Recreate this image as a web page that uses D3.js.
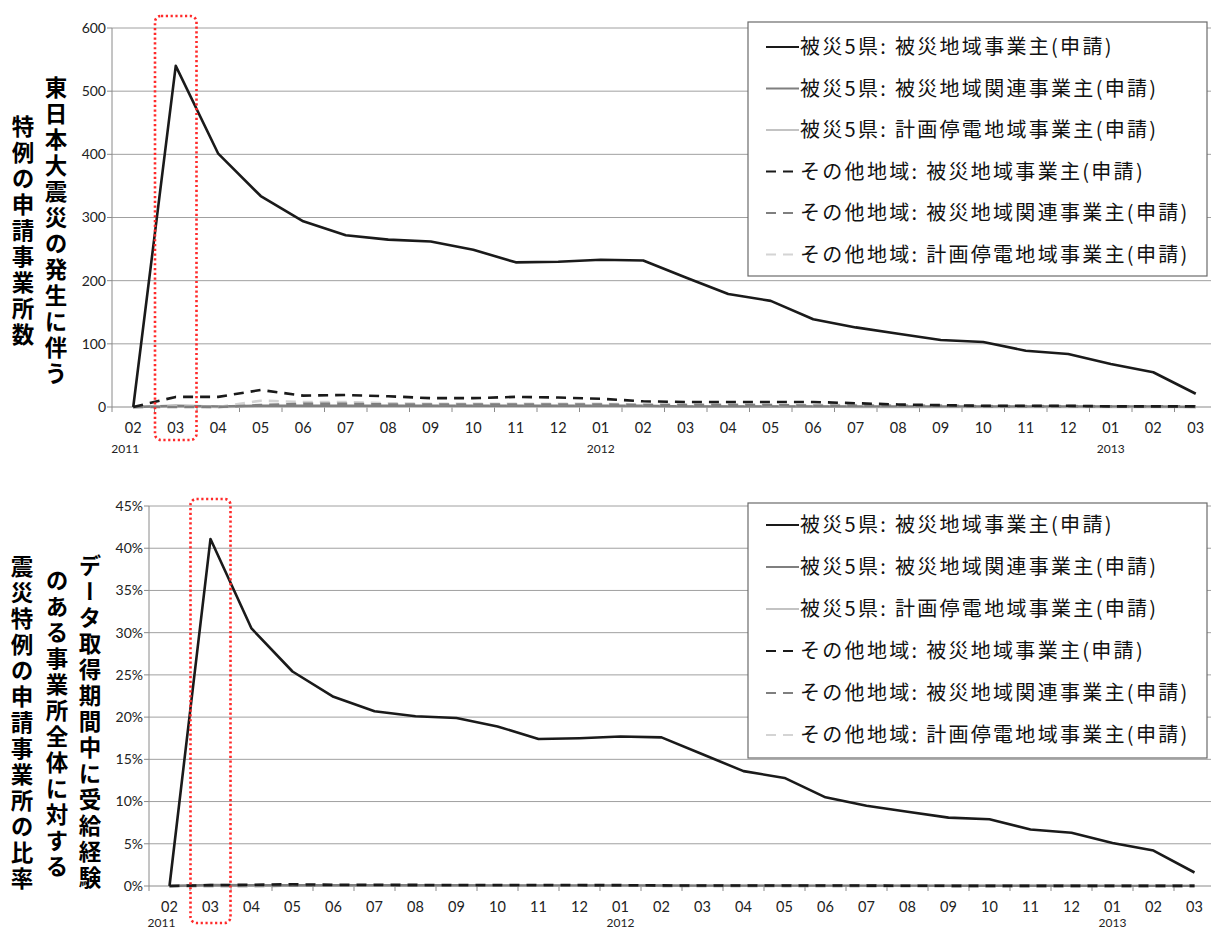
<!DOCTYPE html>
<html><head><meta charset="utf-8">
<script src="https://cdn.jsdelivr.net/npm/d3@7"></script>
<style>body{margin:0;background:#fff}svg{display:block}</style>
</head><body>
<svg id="c" width="1211" height="931"></svg>
<script>
// ---------- data ----------
const months = ["02","03","04","05","06","07","08","09","10","11","12","01","02","03","04","05","06","07","08","09","10","11","12","01","02","03"];
const yearLabels = ["2011","2012","2013"];
const yearIndex = [0, 11, 23];
const seriesNames = [
  "被災5県: 被災地域事業主(申請)",
  "被災5県: 被災地域関連事業主(申請)",
  "被災5県: 計画停電地域事業主(申請)",
  "その他地域: 被災地域事業主(申請)",
  "その他地域: 被災地域関連事業主(申請)",
  "その他地域: 計画停電地域事業主(申請)"
];
// top chart: counts
const countS1 = [0,540,401,334,294,272,265,262,249,229,230,233,232,205,179,168,139,126,116,106,103,89,84,68,55,21];
const countS2 = [0,2,1,2,2,2,2,2,2,2,2,2,2,1,1,1,1,1,1,1,1,1,1,1,1,0];
const countS3 = [0,1,0,1,1,1,1,1,1,1,1,1,1,1,1,1,1,0,0,0,0,0,0,0,0,0];
const countS4 = [0,16,16,27,18,19,17,14,14,16,15,13,9,8,8,8,8,6,4,3,2,2,2,1,1,1];
const countS5 = [0,0,0,3,5,5,4,4,4,4,4,4,3,3,3,3,2,2,2,2,1,1,1,1,1,1];
const countS6 = [0,1,0,10,8,8,6,5,5,5,5,5,4,4,4,3,3,3,2,2,2,2,2,1,1,1];
// bottom chart: ratios
const rateS1 = [0,0.411,0.305,0.254,0.224,0.207,0.201,0.199,0.189,0.174,0.175,0.177,0.176,0.156,0.136,0.128,0.105,0.095,0.088,0.081,0.079,0.067,0.063,0.051,0.042,0.016];
const rateS2 = [0,0.0012,0.0008,0.0008,0.0008,0.0008,0.0008,0.0008,0.0007,0.0007,0.0007,0.0007,0.0006,0.0005,0.0005,0.0005,0.0004,0.0004,0.0004,0.0003,0.0003,0.0003,0.0003,0.0002,0.0002,0.0001];
const rateS3 = [0,0.0004,0.0002,0.0004,0.0004,0.0004,0.0004,0.0004,0.0004,0.0003,0.0003,0.0003,0.0003,0.0003,0.0003,0.0003,0.0002,0.0002,0.0002,0.0001,0.0001,0.0001,0.0001,0.0001,0.0001,0.0001];
const rateS4 = [0,0.001,0.0015,0.002,0.0015,0.0015,0.0013,0.0011,0.0011,0.0012,0.0011,0.001,0.0007,0.0006,0.0006,0.0006,0.0006,0.0005,0.0003,0.0002,0.0002,0.0001,0.0001,0.0001,0.0001,0.0001];
const rateS5 = [0,0.0001,0.0001,0.0003,0.0004,0.0004,0.0003,0.0003,0.0003,0.0003,0.0003,0.0003,0.0002,0.0002,0.0002,0.0002,0.0002,0.0002,0.0002,0.0001,0.0001,0.0001,0.0001,0.0001,0.0001,0.0001];
const rateS6 = [0,0.0001,0,0.0008,0.0006,0.0006,0.0005,0.0004,0.0004,0.0004,0.0004,0.0004,0.0003,0.0003,0.0003,0.0002,0.0002,0.0002,0.0002,0.0002,0.0001,0.0001,0.0001,0.0001,0.0001,0.0001];
const yTicksTop = [0,100,200,300,400,500,600];
const yTicksBottom = [0,0.05,0.10,0.15,0.20,0.25,0.30,0.35,0.40,0.45];
const titleTop = ["東日本大震災の発生に伴う","特例の申請事業所数"];
const titleBottom = ["データ取得期間中に受給経験","のある事業所全体に対する","震災特例の申請事業所の比率"];
const highlightIndex = 1;

// ---------- styles ----------
const seriesStyle = [
  {color:"#1a1a1a", dash:null, w:2.6},
  {color:"#7f7f7f", dash:null, w:2.4},
  {color:"#c3c3c3", dash:null, w:2.4},
  {color:"#1a1a1a", dash:"10,7", w:2.6},
  {color:"#7f7f7f", dash:"10,7", w:2.6},
  {color:"#d4d4d4", dash:"10,7", w:2.6}
];
const drawOrder = [2,1,5,4,3,0];
const svg = d3.select("#c");
const tickFont = "Lato, 'Open Sans', sans-serif";
const cjkFont = "'Noto Sans CJK JP', sans-serif";

function drawChart(cfg){
  const g = svg.append("g");
  const x = d3.scaleBand().domain(d3.range(months.length)).range([cfg.left, cfg.left + cfg.step*months.length]);
  const y = d3.scaleLinear().domain([0, cfg.yMax]).range([cfg.y0, cfg.yTop]);
  const cx = i => x(i) + x.bandwidth()/2;
  // gridlines
  g.selectAll(".grid").data(cfg.ticks.filter(t=>t>0)).join("line")
    .attr("x1", cfg.left).attr("x2", 1211).attr("y1", d=>y(d)).attr("y2", d=>y(d))
    .attr("stroke","#a0a0a0").attr("stroke-width",1);
  // y axis line + ticks
  g.append("line").attr("x1",cfg.left).attr("x2",cfg.left).attr("y1",y(cfg.yMax)).attr("y2",cfg.y0).attr("stroke","#8a8a8a");
  g.selectAll(".yt").data(cfg.ticks).join("line")
    .attr("x1",cfg.left-5).attr("x2",cfg.left).attr("y1",d=>y(d)).attr("y2",d=>y(d)).attr("stroke","#8a8a8a");
  g.selectAll(".yl").data(cfg.ticks).join("text")
    .attr("x",cfg.left-6).attr("y",d=>y(d)).attr("dy","0.35em").attr("text-anchor","end")
    .attr("font-family",tickFont).attr("font-size",14).attr("fill","#222").text(cfg.fmt);
  // x axis
  g.append("line").attr("x1",cfg.left).attr("x2",1211).attr("y1",cfg.y0).attr("y2",cfg.y0).attr("stroke","#8a8a8a");
  g.selectAll(".xt").data(d3.range(months.length+1)).join("line")
    .attr("x1",i=>cfg.left+i*x.step()).attr("x2",i=>cfg.left+i*x.step())
    .attr("y1",cfg.y0).attr("y2",cfg.y0+5).attr("stroke","#8a8a8a");
  g.selectAll(".xl").data(months).join("text")
    .attr("x",(d,i)=>cx(i)).attr("y",cfg.y0+26).attr("text-anchor","middle")
    .attr("font-family",tickFont).attr("font-size",14.5).attr("fill","#222").text(d=>d);
  g.selectAll(".yr").data(yearLabels).join("text")
    .attr("x",(d,i)=>cx(yearIndex[i]) - (i===0?8:0)).attr("y",cfg.y0+cfg.yearDy).attr("text-anchor","middle")
    .attr("font-family",tickFont).attr("font-size",12).attr("fill","#222").text(d=>d);
  // lines
  const line = d3.line().x((d,i)=>cx(i)).y(d=>y(d));
  drawOrder.forEach(k=>{
    const st = seriesStyle[k];
    g.append("path").datum(cfg.series[k]).attr("d",line).attr("fill","none")
      .attr("stroke",st.color).attr("stroke-width",st.w).attr("stroke-linejoin","round")
      .attr("stroke-dasharray",st.dash);
  });
  // red dotted highlight
  g.append("rect").attr("x",x(highlightIndex)+0.5).attr("width",x.bandwidth()-1)
    .attr("y",cfg.boxTop).attr("height",cfg.boxBottom-cfg.boxTop).attr("rx",6)
    .attr("fill","none").attr("stroke","#ff2a2a").attr("stroke-width",2.6).attr("stroke-dasharray","2.2,2.6");
  // legend
  const L = cfg.legend;
  g.append("rect").attr("x",L.x).attr("y",L.y).attr("width",L.w).attr("height",L.h)
    .attr("fill","#fff").attr("stroke","#6b6b6b").attr("stroke-width",1.2);
  seriesNames.forEach((name,k)=>{
    const ry = L.y + L.first + k*L.gap;
    const st = seriesStyle[k];
    g.append("line").attr("x1",L.x+18).attr("x2",L.x+51).attr("y1",ry).attr("y2",ry)
      .attr("stroke",st.color).attr("stroke-width",2.2).attr("stroke-dasharray",st.dash);
    g.append("text").attr("x",L.x+52).attr("y",ry).attr("dy","0.36em")
      .attr("font-family",cjkFont).attr("font-size",20).attr("letter-spacing",2.3).attr("fill","#111").text(name);
  });
  // vertical titles
  cfg.titles.forEach((t,i)=>{
    g.append("text").attr("x",cfg.titleX[i]).attr("y",cfg.titleY[i])
      .style("writing-mode","vertical-rl").attr("text-anchor","middle")
      .attr("font-family",cjkFont).attr("font-weight",700).attr("font-size",22.5)
      .attr("letter-spacing",3.5).attr("fill","#000").text(t);
  });
}

drawChart({
  left:112, step:42.5, y0:407, yTop:28, yMax:600, ticks:yTicksTop, fmt:d=>d, yearDy:46,
  series:[countS1,countS2,countS3,countS4,countS5,countS6],
  boxTop:16, boxBottom:440,
  legend:{x:748, y:22, w:459, h:254, first:25, gap:41.5},
  titles:titleTop, titleX:[56,23], titleY:[232,232]
});
drawChart({
  left:149, step:41, y0:886, yTop:506, yMax:0.45, ticks:yTicksBottom, fmt:d=>Math.round(d*100)+"%", yearDy:41,
  series:[rateS1,rateS2,rateS3,rateS4,rateS5,rateS6],
  boxTop:499, boxBottom:923,
  legend:{x:748, y:503, w:459, h:255, first:22, gap:42},
  titles:titleBottom, titleX:[90,57,22], titleY:[723,725,724]
});
</script>
</body></html>
